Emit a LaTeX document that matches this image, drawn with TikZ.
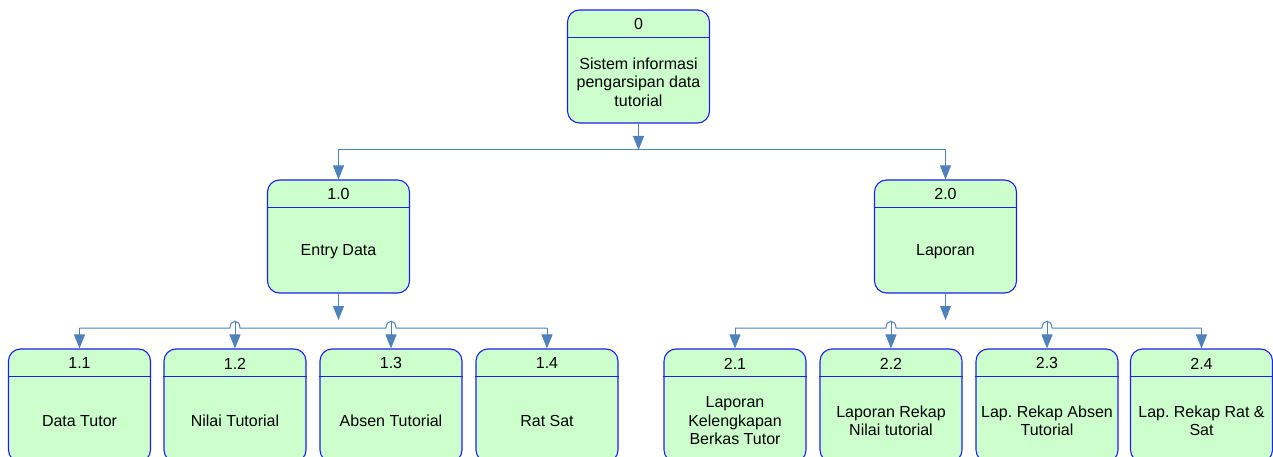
\documentclass[tikz,border=0pt]{standalone}
\usepackage{fontspec}
\setmainfont{Liberation Sans}
\usetikzlibrary{arrows.meta,calc}
\frenchspacing

\definecolor{procfill}{RGB}{204,255,204}
\definecolor{procline}{RGB}{30,30,240}
\definecolor{flowline}{RGB}{79,129,189}

\tikzset{
  proc/.style={draw=procline, line width=1.1pt, fill=procfill, rounded corners=12pt,
    minimum width=142pt, minimum height=113pt, inner sep=0pt},
  procid/.style={font=\fontsize{16}{18.5}\selectfont, inner sep=0pt},
  proctext/.style={font=\fontsize{16}{18.5}\selectfont, align=center, inner sep=0pt},
  divider/.style={draw=procline, line width=1.1pt},
  flow/.style={draw=flowline, line width=1pt, -{Triangle[length=14pt,width=11pt]}},
  wire/.style={draw=flowline, line width=1pt},
}

% process box: name, x, y, number, label
\newcommand\procbox[5]{%
  \node[proc] (#1) at (#2,#3) {};
  \draw[divider] ([yshift=-28pt]#1.north west) -- ([yshift=-28pt]#1.north east);
  \node[procid] (#1-id) at ([yshift=-15pt]#1.north) {#4};
  \node[proctext] (#1-txt) at ($(#1.south)!0.5!([yshift=-31pt]#1.north)$) {#5};
}

\begin{document}
\begin{tikzpicture}[x=1pt,y=-1pt]
\useasboundingbox (0,0) rectangle (1273,457);

% level 0
\procbox{n0}{638.5}{66.5}{0}{Sistem informasi\\pengarsipan data\\tutorial}

% level 1
\procbox{n1}{338.5}{236.5}{1.0}{Entry Data}
\procbox{n2}{945.5}{236.5}{2.0}{Laporan}

% level 2
\procbox{n11}{79.5}{405.5}{1.1}{Data Tutor}
\procbox{n12}{235}{405.5}{1.2}{Nilai Tutorial}
\procbox{n13}{391}{405.5}{1.3}{Absen Tutorial}
\procbox{n14}{547}{405.5}{1.4}{Rat Sat}
\procbox{n21}{735}{405.5}{2.1}{Laporan\\Kelengkapan\\Berkas Tutor}
\procbox{n22}{891}{405.5}{2.2}{Laporan Rekap\\Nilai tutorial}
\procbox{n23}{1047}{405.5}{2.3}{Lap. Rekap Absen\\Tutorial}
\procbox{n24}{1201.5}{405.5}{2.4}{Lap. Rekap Rat \&\\Sat}

% level 0 -> level 1
\coordinate (b0) at (638.5,150);
\draw[flow] (n0.south) -- (b0);
\draw[flow] (b0) -| (n1.north);
\draw[flow] (b0) -| (n2.north);

% level 1 -> level 2 (left branch)
\coordinate (p1) at (338.5,320);
\coordinate (bus1) at (338.5,328);
\draw[flow] (n1.south) -- (p1);
\coordinate (h11) at (n11.north |- bus1);
\coordinate (h12) at (n12.north |- bus1);
\coordinate (h13) at (n13.north |- bus1);
\coordinate (h14) at (n14.north |- bus1);
\draw[wire] (h11) -- ([xshift=-5pt]h12)
  .. controls ([xshift=-5pt,yshift=9pt]h12) and ([xshift=5pt,yshift=9pt]h12) .. ([xshift=5pt]h12)
  -- ([xshift=-5pt]h13)
  .. controls ([xshift=-5pt,yshift=9pt]h13) and ([xshift=5pt,yshift=9pt]h13) .. ([xshift=5pt]h13)
  -- (h14);
\draw[flow] (h11) -- (n11.north);
\draw[flow] ([yshift=7pt]h12) -- (n12.north);
\draw[flow] ([yshift=7pt]h13) -- (n13.north);
\draw[flow] (h14) -- (n14.north);

% level 1 -> level 2 (right branch)
\coordinate (p2) at (945.5,320);
\coordinate (bus2) at (945.5,328);
\draw[flow] (n2.south) -- (p2);
\coordinate (h21) at (n21.north |- bus2);
\coordinate (h22) at (n22.north |- bus2);
\coordinate (h23) at (n23.north |- bus2);
\coordinate (h24) at (n24.north |- bus2);
\draw[wire] (h21) -- ([xshift=-5pt]h22)
  .. controls ([xshift=-5pt,yshift=9pt]h22) and ([xshift=5pt,yshift=9pt]h22) .. ([xshift=5pt]h22)
  -- ([xshift=-5pt]h23)
  .. controls ([xshift=-5pt,yshift=9pt]h23) and ([xshift=5pt,yshift=9pt]h23) .. ([xshift=5pt]h23)
  -- (h24);
\draw[flow] (h21) -- (n21.north);
\draw[flow] ([yshift=7pt]h22) -- (n22.north);
\draw[flow] ([yshift=7pt]h23) -- (n23.north);
\draw[flow] (h24) -- (n24.north);
\end{tikzpicture}
\end{document}
